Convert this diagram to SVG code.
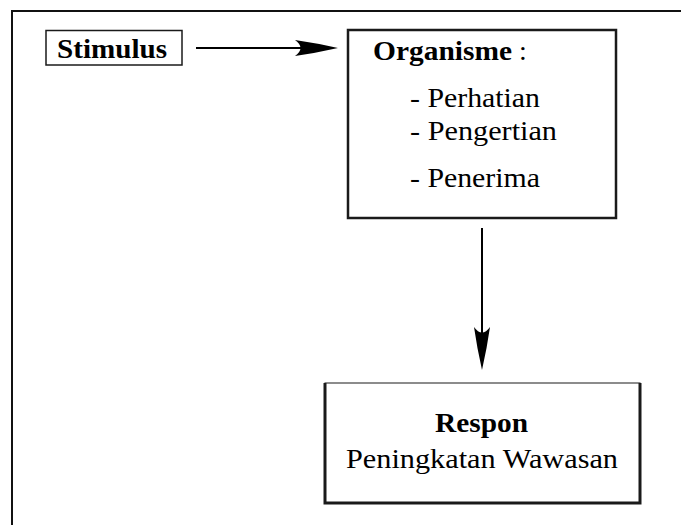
<svg xmlns="http://www.w3.org/2000/svg" width="681" height="525" viewBox="0 0 681 525">
<style>
.bg{fill:#ffffff}
.box{fill:#ffffff;stroke:#1a1a1a}
.frame{fill:none;stroke:#111111;stroke-width:2}
.b,.r{font-family:'Liberation Serif','Times New Roman','Nimbus Roman','Nimbus Roman No9 L','TeX Gyre Termes',FreeSerif,Tinos,'Noto Serif',serif;fill:#000}
.b{font-weight:bold;font-size:27px}
.r{font-size:28px}
.conn{stroke:#000;stroke-width:2;fill:none}
.head{fill:#000;stroke:none}
</style>
<rect class="bg" x="0" y="0" width="681" height="525"/>
<path class="frame" d="M12,525 L12,11 L681,11"/>
<g id="stimulus">
<rect class="box" x="46" y="30.5" width="136" height="34.5" stroke-width="1.5"/>
<text class="b" x="57" y="58" textLength="110" lengthAdjust="spacingAndGlyphs">Stimulus</text>
</g>
<g id="organisme">
<rect class="box" x="348" y="30" width="268" height="188" stroke-width="2.5"/>
<text class="b" x="373" y="60" textLength="139" lengthAdjust="spacingAndGlyphs">Organisme</text>
<text class="r" x="519" y="60">:</text>
<text class="r" x="410" y="107" textLength="130" lengthAdjust="spacingAndGlyphs">- Perhatian</text>
<text class="r" x="410" y="140" textLength="147" lengthAdjust="spacingAndGlyphs">- Pengertian</text>
<text class="r" x="410" y="187" textLength="130" lengthAdjust="spacingAndGlyphs">- Penerima</text>
</g>
<g id="respon">
<rect class="box" x="325" y="383" width="315" height="120" stroke-width="1"/>
<path d="M325,383 L325,503 L640,503 L640,383" fill="none" stroke="#1a1a1a" stroke-width="3"/>
<text class="b" x="435" y="432" textLength="93" lengthAdjust="spacingAndGlyphs">Respon</text>
<text class="r" x="346" y="468" textLength="272" lengthAdjust="spacingAndGlyphs">Peningkatan Wawasan</text>
</g>
<g id="connectors">
<line class="conn" x1="196" y1="48" x2="305" y2="48"/>
<path class="head" d="M338,48 Q316,43 295,40 Q306,48 295,56 Q316,53 338,48 Z"/>
<line class="conn" x1="482" y1="228" x2="482" y2="337"/>
<path class="head" d="M482,370 Q477,348 474,327 Q482,338 490,327 Q487,348 482,370 Z"/>
</g>
</svg>
